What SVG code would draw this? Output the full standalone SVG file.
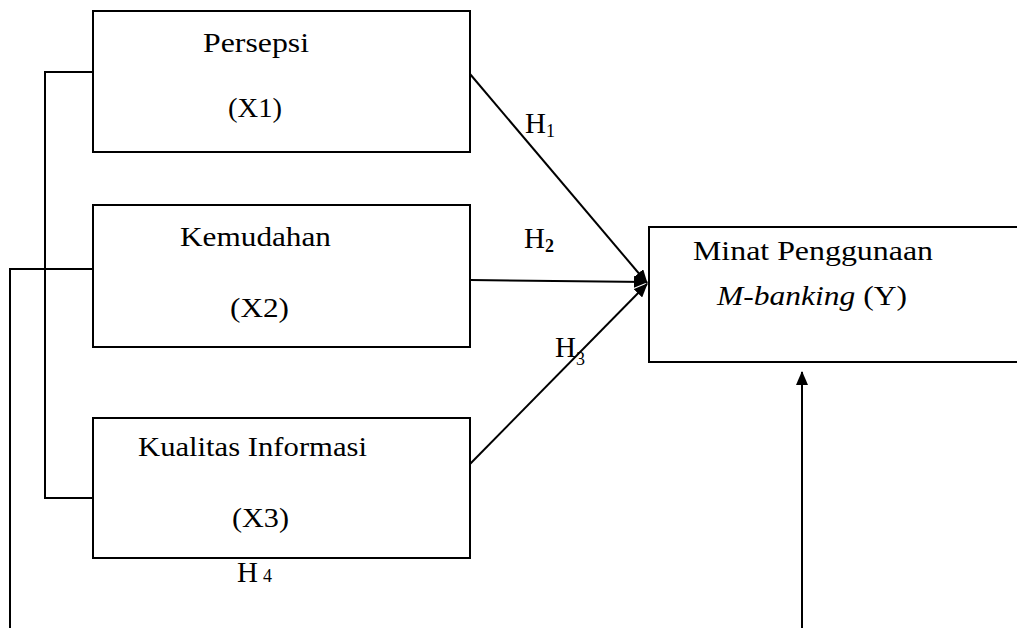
<svg xmlns="http://www.w3.org/2000/svg" width="1017" height="628" viewBox="0 0 1017 628">
<style>
.box{fill:#fff;stroke:#000;stroke-width:2}
.ln{fill:none;stroke:#000;stroke-width:2}
.t{font-family:"Liberation Serif","Times New Roman",serif;font-size:27px;fill:#000}
.h{font-family:"Liberation Serif","Times New Roman",serif;font-size:29px;fill:#000}
.hs{font-size:18px}
</style>
<defs>
<marker id="ah" markerWidth="14" markerHeight="12" refX="13" refY="6" orient="auto" markerUnits="userSpaceOnUse">
<path d="M0,0 L14,6 L0,12 z" fill="#000"/>
</marker>
</defs>
<rect width="1017" height="628" fill="#fff"/>
<g id="connectors">
<polyline class="ln" points="93,72 45,72 45,498 93,498"/>
<polyline class="ln" points="93,269 10,269 10,628"/>
<line class="ln" x1="470" y1="74" x2="647" y2="283" marker-end="url(#ah)"/>
<line class="ln" x1="470" y1="280" x2="647" y2="282" marker-end="url(#ah)"/>
<line class="ln" x1="470" y1="464" x2="647" y2="284" marker-end="url(#ah)"/>
<line class="ln" x1="802" y1="628" x2="802" y2="372" marker-end="url(#ah)"/>
</g>
<g id="persepsi">
<rect class="box" x="93" y="11" width="377" height="141"/>
<text class="t" x="203" y="52" textLength="106" lengthAdjust="spacingAndGlyphs">Persepsi</text>
<text class="t" x="228" y="117" textLength="54" lengthAdjust="spacingAndGlyphs">(X1)</text>
</g>
<g id="kemudahan">
<rect class="box" x="93" y="205" width="377" height="142"/>
<text class="t" x="180" y="246" textLength="151" lengthAdjust="spacingAndGlyphs">Kemudahan</text>
<text class="t" x="230" y="317" textLength="59" lengthAdjust="spacingAndGlyphs">(X2)</text>
</g>
<g id="kualitas">
<rect class="box" x="93" y="418" width="377" height="140"/>
<text class="t" x="138" y="456" textLength="229" lengthAdjust="spacingAndGlyphs">Kualitas Informasi</text>
<text class="t" x="232" y="527" textLength="57" lengthAdjust="spacingAndGlyphs">(X3)</text>
</g>
<g id="minat">
<rect class="box" x="649" y="227" width="400" height="135"/>
<text class="t" x="693" y="260" textLength="240" lengthAdjust="spacingAndGlyphs">Minat Penggunaan</text>
<text class="t" x="717" y="305" textLength="190" lengthAdjust="spacingAndGlyphs"><tspan font-style="italic">M-banking</tspan> (Y)</text>
</g>
<g id="labels">
<text class="h" x="525" y="133">H<tspan class="hs" dy="4">1</tspan></text>
<text class="h" x="524" y="248">H<tspan class="hs" dy="4" font-weight="bold">2</tspan></text>
<text class="h" x="555" y="357">H<tspan class="hs" dy="8">3</tspan></text>
<text class="h" x="237" y="582">H<tspan class="hs" dx="5">4</tspan></text>
</g>
</svg>
